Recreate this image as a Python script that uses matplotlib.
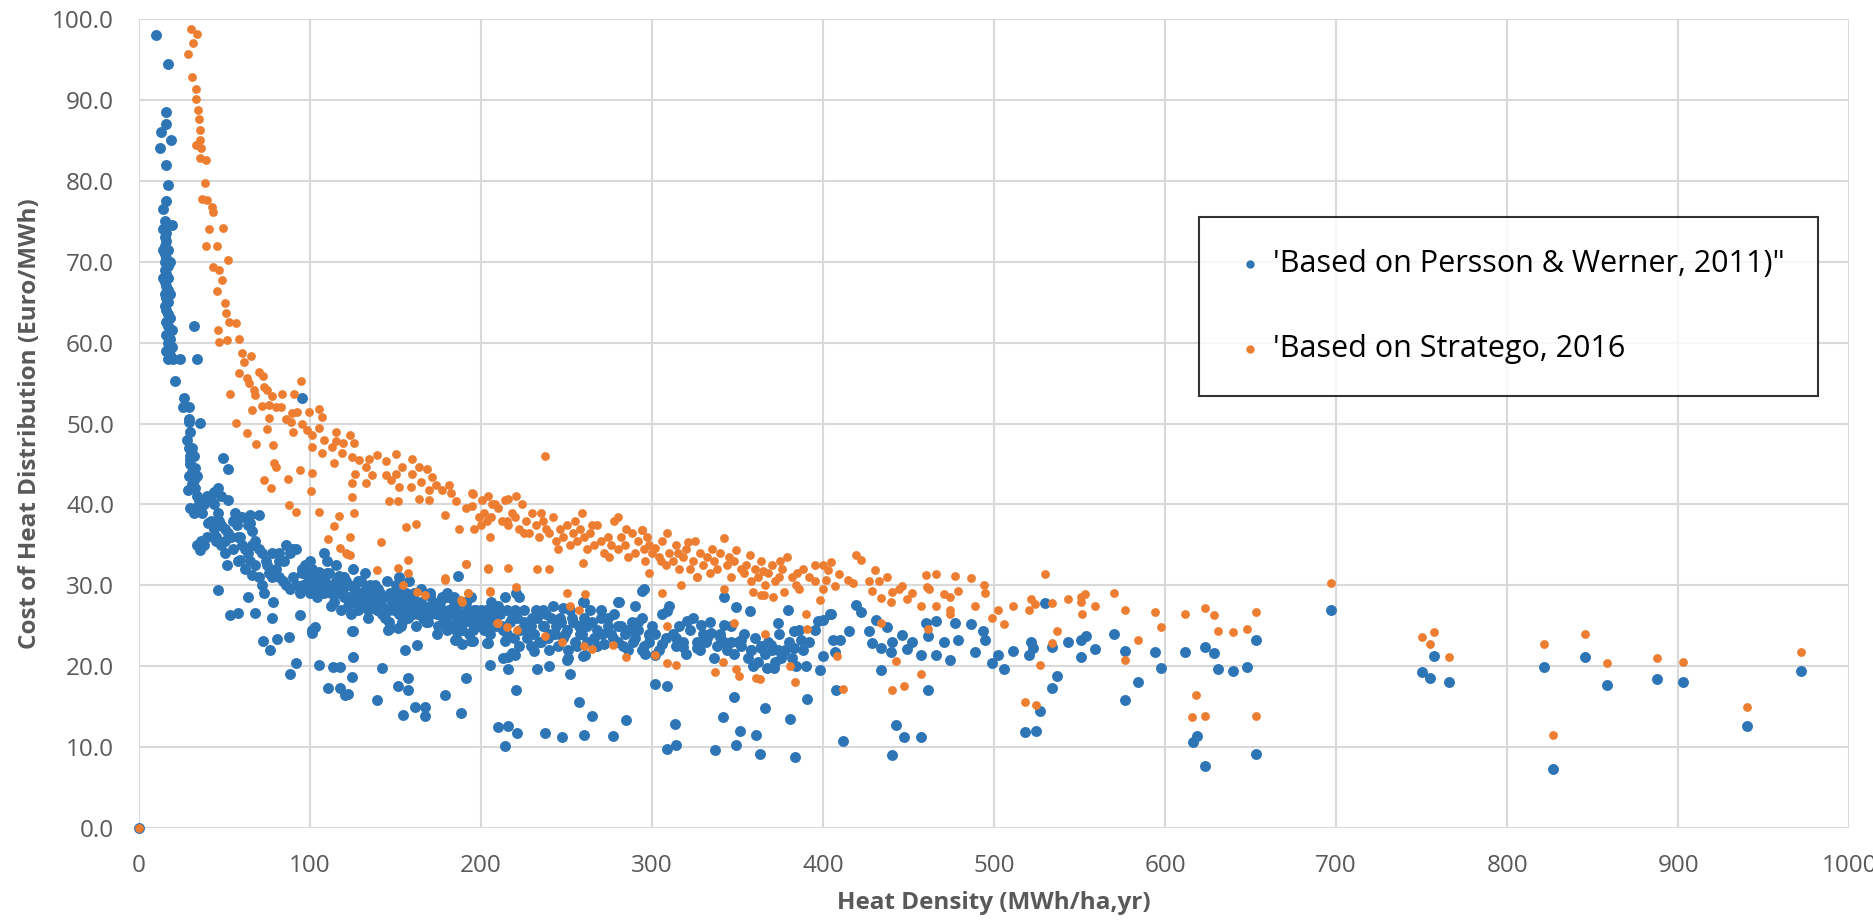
import matplotlib
matplotlib.use("Agg")
import matplotlib.pyplot as plt
from matplotlib.ticker import FixedLocator, FixedFormatter

plt.rcParams['font.family'] = ['Open Sans', 'DejaVu Sans']

# ---------------- data ----------------
blue_pts = [
    (0, 0),
    (10, 98), (17, 94.5), (16, 88.5), (15.5, 87), (13, 86), (18.5, 85), (12, 84), (16, 82), (17, 79.5),
    (15.5, 77.5), (14, 76.5),
    (15, 75), (17, 74.5), (19, 74.5), (14, 74), (16, 73.5), (15, 73), (16, 72.5), (15, 72), (17, 71.5),
    (15, 71), (16, 70.5), (15, 70), (17, 69.5), (15, 69), (16, 68.5), (17, 68), (15, 67.5), (16, 67),
    (17, 66.5), (15, 66), (16, 65.5), (17, 65), (15, 64.5), (16, 64), (17, 63.5), (18, 63), (16, 62.5),
    (17, 62), (19, 61.5), (16, 61), (18, 60.5), (17, 60), (19, 59.5), (16, 59), (18, 58.5), (20, 58),
    (17, 58), (14, 71.5), (14, 68), (18, 70), (18, 66),
    (32, 62), (34, 58), (24, 58), (21, 55.3), (26, 53.2), (29, 52), (25.5, 52), (29, 50.2), (35.7, 50.1),
    (95, 53.2), (49, 45.7), (52, 44.4),
    (28, 48), (29, 47), (30, 46), (30, 45), (31, 44), (29, 43.5), (32, 43), (31, 42.5), (33, 42), (34, 41),
    (35, 40.5), (36, 40), (33, 39.5), (37, 39), (38, 40), (30, 45.5), (31, 47), (32, 46), (33, 44.5),
    (34, 43.5), (30, 49), (29, 50.5), (28.8, 41.8), (31.8, 39.3), (35.7, 34.4), (40.5, 37.7), (45, 36),
    (46.4, 29.4), (53.2, 26.3), (58, 26.6), (51.3, 32.5), (56, 38.1), (59, 36), (65, 38.7), (65, 37.7),
    (63.9, 28.6), (67.8, 26.6), (59, 33.1), (65.9, 31.3), (72.7, 23.1), (76.6, 22), (77.6, 25.9),
    (78.5, 28), (80.5, 23.4), (87.4, 23.6), (88, 19.1), (92, 20.4), (94, 26.3), (90.2, 34.5), (81.7, 34),
    (101, 24.1), (102.8, 24.9), (105, 20.1), (110.7, 17.3), (113.6, 19.9), (117.5, 19.9), (117.5, 17.3),
    (120.5, 16.4), (122.4, 16.6), (124.4, 18.7), (125.4, 21.2), (125, 24.3), (139, 15.8), (141.8, 19.8),
    (145.8, 24.5), (151.5, 24.7), (154.6, 14), (155.6, 22), (157.5, 18.5), (157.5, 17.1), (151.5, 17.5),
    (162.4, 22.6), (161.4, 15), (167.3, 15), (167.3, 13.8), (186.8, 31.1),
    (40, 41), (42, 40.5), (44, 40), (46, 39), (47, 38), (48, 37.5), (50, 37), (52, 36.5), (54, 36),
    (42, 38), (44, 37), (45, 35.5), (48, 35), (50, 34), (38, 35), (40, 36), (55, 38), (57, 37.5), (58, 36),
    (60, 35), (62, 34.5), (64, 34), (65, 33), (62, 32), (58, 33), (55, 34.5), (66, 35), (68, 35.5),
    (70, 34.5), (72, 34), (74, 33), (75, 32.5), (76, 31.5), (78, 31), (80, 32), (82, 31), (84, 30.5),
    (86, 30), (88, 29.5), (70, 31), (72, 30), (68, 32.5), (73, 29), (90, 31), (92, 30), (94, 29),
    (96, 29.5), (98, 30), (100, 29), (102, 30), (104, 28.5), (106, 29.5), (108, 30.5), (110, 30),
    (112, 29), (114, 28), (116, 29), (118, 30), (120, 28.5), (122, 27.5), (124, 28), (126, 29), (128, 27),
    (130, 27.5), (132, 28.5), (134, 27), (136, 29), (138, 30), (140, 28), (142, 27.5), (144, 26), (146, 27),
    (148, 28), (150, 27.5), (152, 26.5), (154, 28), (156, 29), (158, 27), (160, 26.5), (162, 28), (164, 27),
    (166, 26), (168, 25.5), (170, 27.5), (172, 28), (174, 26.5), (176, 27), (178, 26), (180, 25.5),
    (182, 27), (184, 28), (186, 26), (188, 25), (190, 26.5), (192, 27), (194, 25.5), (196, 26), (198, 25),
    (200, 27), (202, 24.5), (204, 26), (206, 25), (208, 27), (85, 33), (88, 34), (95, 32), (100, 31.5),
    (105, 31), (110, 31.5), (115, 30.5), (120, 31), (125, 32), (128, 30.5), (132, 31.5), (135, 30),
    (140, 29.5), (150, 30), (155, 29), (160, 28.5), (165, 29.5), (170, 28.7), (180, 28.5), (190, 28),
    (152, 31), (158, 30.5), (110, 33), (108, 34), (115, 32.5), (126, 30), (100, 33), (92, 34.5), (82, 33),
    (78, 34), (86, 35), (60, 38.5), (64, 37.5), (66, 36.7), (70, 38.7), (56, 39), (52, 40.5), (48, 41),
    (46, 42), (44, 41.5), (30, 39.5), (32, 39), (34, 35), (36, 35.5), (50, 35.5),
    (95, 31.5), (97, 32.5), (99, 31), (101, 32), (103, 30.5), (105, 31.7), (107, 30), (109, 31), (96, 30),
    (100, 30.5), (104, 29.5), (108, 29), (111, 31.5), (113, 30), (115, 29), (117, 31.2), (119, 29.5),
    (121, 30.5), (123, 28.5), (125, 29.8), (127, 28), (129, 29), (112, 27.5), (118, 27), (124, 26.5),
    (130, 30.5), (131, 28), (133, 29.5), (135, 27.5), (137, 28.5), (139, 27), (141, 29), (143, 28.5),
    (145, 30.5), (147, 29), (149, 27), (134, 26), (142, 26.5), (146, 25.5), (150, 28.5), (151, 29.5),
    (153, 27), (155, 28), (157, 26), (159, 27.5), (161, 29), (163, 26.5), (165, 28), (167, 27), (169, 25.5),
    (154, 25.5), (162, 25), (170, 29), (171, 26.5), (173, 27.5), (175, 25), (177, 28.5), (179, 26),
    (181, 27), (183, 25), (185, 27.5), (187, 26.5), (189, 24.5), (191, 27.8), (193, 26), (195, 24.5),
    (197, 27), (199, 26), (174, 24), (186, 24.2), (194, 28.5), (201, 25.5), (203, 27), (205, 24), (207, 26),
    (209, 25), (211, 26.5), (213, 24.5), (215, 27), (217, 25.5), (219, 23.5), (221, 26), (223, 24.5),
    (225, 27), (227, 23.5), (229, 25), (206, 28), (214, 28.5), (222, 22.5), (231, 24), (233, 26), (235, 23),
    (237, 25), (239, 23.5), (241, 26), (243, 24), (245, 22.5), (247, 25.5), (249, 24), (251, 22), (253, 26),
    (255, 23), (257, 25), (259, 24), (236, 27), (248, 27.2), (262, 23), (265, 25.5), (268, 22.5), (271, 24),
    (274, 26), (277, 23.5), (280, 25), (283, 22.5), (286, 24.5), (289, 23), (292, 25.5), (295, 22.5),
    (298, 24), (270, 27), (290, 27.5), (101, 24.5), (124.5, 24.3), (147, 24.7), (153, 25), (180, 24.5),
    (186, 23.3), (194, 23.1), (204, 22.9), (214, 23.1), (216, 21.2), (220, 21.4), (229, 22.5), (231, 21.9),
    (240, 22), (251, 21), (261, 21.4), (260, 28), (280.4, 28), (295, 29.5),
    (309, 26.8), (320.7, 25.6), (328.5, 25.1), (334.4, 24.1), (342.2, 25.1), (346, 23), (352, 23.3),
    (358, 22), (364, 22.2), (369.6, 22.6), (373.6, 22), (375.5, 21), (359, 20), (367, 19.8), (371.6, 19.8),
    (313.9, 23.5), (306, 22.8), (298, 23.9), (290, 24.5), (294, 22), (302, 21.4), (318, 22.4), (326, 22.2),
    (331.8, 23), (339.6, 23.6), (383, 24.4), (387, 23.2), (397, 25.6), (404.6, 26.5),
    (176, 28), (178, 27), (180, 29), (182, 26.5), (184, 28.5), (186, 27.5), (190, 25.5), (193, 24),
    (196, 27), (198, 25.5),
    (178.8, 16.5), (188, 14.2), (191.2, 18.5), (184.8, 23.2), (188.6, 22.8), (195.5, 23.1), (205.3, 20.2),
    (203.7, 22.9), (210.2, 12.5), (216, 12.6), (214, 10.1), (221, 11.8), (220.5, 17.1), (216, 19.6),
    (213.1, 21), (218, 21.6), (237.6, 11.8), (247.3, 11.2), (260, 11.5), (277.3, 11.4), (284.9, 13.4),
    (264.9, 13.9), (257.1, 15.6), (252.2, 19), (250.3, 20.8), (239.5, 20), (233, 19.6), (259.7, 21.3),
    (294.3, 29.3), (280.2, 28), (259.7, 27.9), (220.5, 29), (302, 17.8), (308.6, 17.6), (309, 9.8),
    (313.8, 10.3), (313.5, 12.9), (336.8, 9.6), (341.3, 13.7), (348.1, 16.2), (351.4, 12), (349.1, 10.3),
    (360.8, 11.5), (363.4, 9.1), (366.1, 14.8), (380.4, 13.5), (383.3, 8.8), (390.8, 16), (390.2, 20),
    (341.9, 28.6), (349.1, 27.3), (357, 26.8), (379.4, 26.9), (373.6, 25.3), (382.9, 22.2),
    (205, 26.5), (210, 27.5), (212, 25), (215, 24), (218, 26), (220, 27), (222, 28.5), (225, 25.5),
    (228, 24.5), (230, 26), (232, 27), (234, 23), (236, 25), (238, 26.5), (240, 24), (242, 27.5), (244, 25),
    (246, 26), (248, 23.5), (250, 24.5), (252, 27), (254, 25.5), (256, 22.5), (258, 24), (260, 26),
    (262, 25), (264, 27), (266, 23.5), (268, 24.5), (270, 26), (272, 22.8), (274, 25), (276, 24),
    (278, 26.5), (280, 23), (282, 25), (284, 24), (286, 22), (288, 25.5), (290, 23.5), (292, 24.5),
    (294, 26), (296, 21.5), (298, 23), (300, 25), (302, 24), (304, 22), (306, 26.5), (308, 23.5),
    (310, 27.5), (312, 24), (314, 22.5), (316, 25), (318, 23), (320, 21.5), (322, 24.5), (324, 26),
    (326, 23), (328, 22), (330, 24), (332, 23.5), (334, 25.5), (336, 21), (338, 22.5), (340, 24), (342, 23),
    (344, 22), (346, 25), (348, 21.5), (350, 23), (352, 22.5), (354, 24), (356, 21), (358, 22), (360, 23.5),
    (362, 20.5), (364, 22.5), (366, 21.5), (368, 23), (370, 22), (372, 20.5), (374, 24), (376, 21.5),
    (378, 22), (380, 23), (382, 21), (384, 20), (386, 24.5), (388, 22), (392, 23), (395, 24.5),
    (404, 26.5), (400, 25.7), (419.5, 27.6), (422.2, 26.7), (430.7, 25.7), (437.6, 24.9), (415, 24.3),
    (426.7, 24.3), (428.7, 22.9), (433.6, 22.2), (439.5, 21.8), (406, 23.3), (410, 23.3), (400, 21.3),
    (407, 21.8), (398, 19.5), (433.6, 19.5), (440.5, 23), (446.4, 23.9), (452.3, 23), (449, 22.1),
    (457.3, 21.4), (466.1, 21.4), (460.2, 25.3), (466.1, 25.6), (461.2, 23.7), (476.9, 25.4), (471, 23),
    (478.9, 23.3), (474, 20.8), (486.8, 25.2), (493.7, 24.4), (494.7, 23.3), (488.8, 21.7), (498.6, 20.4),
    (502.5, 21.4), (506, 19.6), (510.8, 21.9), (521.8, 23), (522.6, 22.2), (520.6, 21.4), (529.7, 27.8),
    (534, 22.4), (543.1, 23), (550.8, 23.2), (550.8, 21.1), (553.7, 23.7), (559.2, 22.1), (570.4, 24),
    (576.7, 21.9), (594, 21.7), (597.4, 19.8), (611.4, 21.7), (623.6, 22.4), (628.5, 21.6), (631, 19.6),
    (407.6, 17.1), (461.6, 17), (537, 18.8), (534, 17.3), (584.2, 18), (576.7, 15.8), (526.8, 14.5),
    (518.3, 11.9), (524.8, 12), (442.5, 12.7), (447.4, 11.3), (457.3, 11.3), (411.6, 10.8), (440.1, 9),
    (616.3, 10.6), (618.7, 11.4), (623.6, 7.7),
    (697, 26.9), (639.5, 19.4), (648, 19.9), (653, 23.2), (653, 9.1), (750.4, 19.3), (754.8, 18.5),
    (757.3, 21.3), (766, 18.1), (821.8, 19.9), (826.8, 7.3), (845.4, 21.1), (858.3, 17.7), (887.6, 18.4),
    (903, 18), (940.2, 12.6), (971.7, 19.4),
]

orange_pts = [
    (0, 0),
    (30.2, 98.8), (33.7, 98.2), (31.3, 97), (28.8, 95.7), (30.9, 92.8), (33.4, 91.3), (33.4, 90.1),
    (34.2, 88.8), (34.8, 87.6), (35.4, 86.3), (35.7, 85.1), (33.2, 84.4), (36.3, 84), (35.7, 82.8),
    (39, 82.6), (38.6, 79.7), (36.6, 77.7), (39.5, 77.6), (42.5, 76.8), (43.4, 76.1), (41, 74.1),
    (48.9, 74.2), (39.1, 71.9), (45.4, 71.9), (52.3, 70.2), (43.4, 69.4), (46.9, 69), (48.3, 67.7),
    (45.8, 66.4), (50.9, 63.6),
    (50.3, 64.9), (52.6, 62.6), (56.5, 62.4), (46.2, 61.6), (46.8, 60.1), (51.7, 60.3), (58.5, 60.4),
    (60.4, 58.7), (65.3, 58.3), (61.4, 57.6), (58.5, 56.3), (70.2, 56.4), (72.5, 55.9), (63.4, 55.6),
    (64.3, 55), (67.3, 54.1), (67.8, 53.5), (73.1, 54.5), (75, 54.1), (77.6, 53.4), (83.8, 53.7),
    (90.6, 53.7), (94.9, 55.3), (53, 53.7), (66.3, 51.7), (72.1, 52.2), (76, 52.3), (79.9, 52.1),
    (82.8, 52), (76, 50.7), (85.8, 50.6), (89.7, 51.3), (92.6, 51.4), (99.4, 51.4), (105.3, 51.8),
    (106.8, 50.8), (56.9, 50.1), (63.4, 48.8), (74.7, 49.3), (68.2, 47.5), (78.6, 47.4), (88.7, 50.2),
    (90.1, 49), (95.5, 49.9), (98.4, 49.2), (101.4, 48.6), (105.3, 49.4), (101.4, 47.1), (107.2, 46.3),
    (108.2, 48), (115, 48.9), (115, 47.9), (119.3, 47.6), (123.2, 48.6), (125.7, 47.6), (113.1, 47.1),
    (118.9, 46.3), (124.8, 45.9), (128.7, 45.5), (134.5, 45.6), (139.4, 46.1), (144.2, 45.4),
    (150.5, 46.2), (159.5, 45.6), (114, 45.1), (126.3, 43.8), (132.6, 44.6), (136.5, 43.6), (144.2, 43.6),
    (150.1, 43.8), (153.6, 44.6), (159.5, 43.8), (163.7, 44.6), (168.6, 44.4), (171.5, 43.4),
    (124.8, 42.6), (132.6, 42.6), (147.2, 43), (152, 42.2), (158.9, 42.2), (164.7, 42.8), (169.6, 41.8),
    (173.5, 42.4), (177.4, 41.8), (181.3, 42.4), (182.3, 41.4), (185.2, 40.4), (169.6, 40.5),
    (163.7, 40.7), (146.2, 40.4), (151.7, 40.4), (194.9, 41.4), (194.9, 39.8), (191, 39.6), (200.8, 40.5),
    (206.6, 40.1), (198.8, 38.5), (203.7, 37.9), (179, 38.7), (195.9, 37), (187.1, 37), (161.8, 37.6),
    (155.9, 37.2), (78.9, 45.1), (79.9, 44.6), (94, 44.3), (101.4, 43.9), (87.1, 43.1), (73.1, 43),
    (77, 42), (100.4, 41.7), (124.4, 40.9), (87.7, 39.9), (92, 39.1), (105.3, 39.1), (117, 38.6),
    (125.7, 38.9), (114, 37.3), (123.2, 36), (110.5, 35.7), (117.3, 34.6), (121.2, 34), (141.3, 35.4),
    (121.5, 33.9), (123.5, 33.7), (139, 31.9), (151.5, 32.1), (157.5, 33.1), (157.5, 31.5), (154.6, 30),
    (162.4, 29.2), (167.3, 28.8), (178.9, 30.7), (191.2, 32.6), (192.6, 29), (188.6, 28), (204.3, 32.1),
    (205.3, 29.2), (209.3, 25.3),
    (237.6, 46), (178.8, 30.9), (191.2, 32.6), (203.9, 32), (216, 32.2), (233, 32), (239.5, 32),
    (259.5, 32.8), (250.3, 29), (260.8, 28.9), (252.2, 27.5), (257, 27), (205.3, 29.3), (220.5, 29.8),
    (192.6, 29), (188, 28.2), (210.2, 25.3), (215, 24.9), (221, 24.5), (237.6, 23.7), (247.3, 23),
    (260, 22.5), (264.9, 22.1), (277.3, 22.6), (285, 21.2), (306, 29), (308.6, 25), (302, 21.4),
    (309, 20.4), (313.8, 20.1), (341.9, 29.6), (348.1, 25.4), (341.3, 20.5), (336.8, 19.3), (349.1, 19.6),
    (351, 18.8), (360.8, 18.5), (363.4, 18.4), (366, 24), (365.3, 28.8), (371, 28.6), (377.4, 29.2),
    (380.4, 20), (383.3, 18), (390.8, 24.6), (390.2, 26.5), (359, 29.2),
    (195.5, 41.3), (220.5, 41), (216, 40.7), (259, 39), (280.2, 38.5), (294.3, 36.8), (309, 36.5),
    (321, 35.4), (341.9, 35.8), (349, 34.4), (357, 33.8), (379, 33.5), (395, 32.5), (297, 36), (302, 34.6),
    (298, 31.5), (316.8, 30), (326.5, 31), (364, 28.8),
    (202, 39), (204, 41), (206, 38.5), (208, 40), (210, 39.5), (212, 38), (214, 40.5), (216, 37.5),
    (218, 39), (220, 38.5), (222, 37), (224, 40), (226, 38), (228, 36.5), (230, 39), (232, 37.5), (234, 36),
    (236, 38), (238, 37), (240, 36.5), (242, 38.5), (244, 35.5), (246, 37), (248, 36), (250, 37.5),
    (252, 35), (254, 36.5), (256, 35.5), (258, 37), (260, 36), (262, 34.5), (264, 36.5), (266, 35),
    (268, 37.5), (270, 35.5), (272, 34), (274, 36), (276, 35), (278, 38), (280, 34.5), (282, 36), (284, 35),
    (286, 33.5), (288, 36.5), (290, 34), (292, 35.5), (294, 36.8), (296, 33), (298, 35), (300, 34),
    (304, 33.5), (306, 35.5), (308, 32.5), (310, 34), (312, 33), (314, 35), (316, 32), (318, 33.5),
    (320, 34.5), (322, 32), (324, 33), (326, 31), (328, 34), (330, 32.5), (332, 33.5), (334, 31.5),
    (336, 33), (338, 32), (340, 34), (344, 32.5), (346, 31), (348, 33), (352, 32), (354, 31.5),
    (358, 30.5), (360, 32), (362, 31), (364, 33), (366, 30), (368, 31.5), (370, 32.5), (372, 30.5),
    (374, 31), (376, 32), (382, 31), (384, 30), (386, 29.5), (388, 32), (392, 31),
    (200, 37.5), (205, 36), (215, 38), (225, 36.5), (235, 39), (245, 34.5), (255, 38), (265, 37.5),
    (275, 33.5), (285, 37), (295, 34.5), (305, 33), (315, 34), (325, 35.5), (335, 34.5), (345, 33.5),
    (355, 32.5), (365, 31.8), (375, 33), (385, 31.5), (395, 30.5),
    (419.5, 33.7), (422.2, 33.1), (430.1, 31.9), (437.6, 31), (426.7, 30.5), (432.6, 30.5), (417.5, 30.3),
    (414.3, 30.7), (409.6, 31.4), (407, 29.9), (400, 29.6), (402, 30.7), (403, 31.9), (404.5, 32.9),
    (400, 32.5), (398, 28.2), (428.7, 29.3), (440.1, 29.2), (446.4, 29.9), (444.5, 29.6), (433.6, 28.4),
    (439.5, 28), (449, 28.3), (452.3, 29), (457.3, 27.4), (466.1, 27.5), (460.2, 31.3), (466.1, 31.4),
    (460.8, 29.8), (462.2, 29.6), (471, 28.9), (474, 28.6), (478.9, 29.3), (476.9, 31.1), (474, 27),
    (474, 26.5), (486.8, 30.9), (494, 30.1), (494.7, 29), (488.8, 27.5), (502.5, 26.9), (498.6, 26),
    (506, 25.2), (510.8, 27.5), (520.6, 26.9), (521.8, 28.3), (523.8, 27.7), (529.7, 31.4), (534, 27.8),
    (537, 24.4), (534, 22.9), (543.1, 28.3), (550.8, 28.6), (550.8, 27.9), (553.3, 28.9), (551.2, 26.5),
    (559, 27.4), (570.4, 29), (576.7, 26.9), (576.7, 20.8), (584.2, 23.2), (594, 26.7), (597.4, 24.8),
    (611.4, 26.5), (623.6, 27.2), (628.5, 26.3), (631, 24.4), (433.6, 25.4), (461.6, 24.6), (442.5, 20.7),
    (408, 21.3), (457.3, 19), (447.4, 17.5), (440.1, 17), (411.6, 17.2), (526.8, 20.1), (518.3, 15.6),
    (524.8, 15.2), (618.3, 16.5), (615.7, 13.7), (623.6, 13.9),
    (697, 30.3), (639.5, 24.2), (648, 24.6), (653, 26.7), (653, 13.9), (750.4, 23.6), (754.8, 22.7),
    (757.3, 24.2), (766, 21.1), (821.8, 22.7), (826.8, 11.5), (845.4, 24), (858.3, 20.4), (887.6, 21),
    (903, 20.5), (940.2, 15), (971.7, 21.7),
]

blue_x = [p[0] for p in blue_pts]
blue_y = [p[1] for p in blue_pts]
orange_x = [p[0] for p in orange_pts]
orange_y = [p[1] for p in orange_pts]

series_labels = ["'Based on Persson & Werner, 2011)\"", "'Based on Stratego, 2016"]
x_ticks = [0, 100, 200, 300, 400, 500, 600, 700, 800, 900, 1000]
x_tick_labels = ["0", "100", "200", "300", "400", "500", "600", "700", "800", "900", "1000"]
y_ticks = [0, 10, 20, 30, 40, 50, 60, 70, 80, 90, 100]
y_tick_labels = ["0.0", "10.0", "20.0", "30.0", "40.0", "50.0", "60.0", "70.0", "80.0", "90.0", "100.0"]

# ---------------- plot ----------------
BLUE = '#2E75B6'
ORANGE = '#ED7D31'
GRAY = '#595959'
GRID = '#D9D9D9'

fig = plt.figure(figsize=(18.74, 9.23), dpi=100)
ax = fig.add_axes([0.0742, 0.1029, 0.9125, 0.8765])

ax.scatter(blue_x, blue_y, s=62, color=BLUE, linewidths=0, zorder=3, clip_on=False, label=series_labels[0])
ax.scatter(orange_x, orange_y, s=40, color=ORANGE, linewidths=0, zorder=4, clip_on=False, label=series_labels[1])

ax.set_xlim(0, 1000)
ax.set_ylim(0, 100)
ax.xaxis.set_major_locator(FixedLocator(x_ticks))
ax.xaxis.set_major_formatter(FixedFormatter(x_tick_labels))
ax.yaxis.set_major_locator(FixedLocator(y_ticks))
ax.yaxis.set_major_formatter(FixedFormatter(y_tick_labels))

ax.grid(True, color=GRID, linewidth=1.5, zorder=0)
ax.set_axisbelow(True)
for sp in ax.spines.values():
    sp.set_visible(False)

ax.tick_params(axis='both', length=0, labelsize=17.5, labelcolor=GRAY)
ax.tick_params(axis='y', pad=18)
ax.tick_params(axis='x', pad=19)

ax.set_xlabel('Heat Density (MWh/ha,yr)', fontsize=17.5, fontweight='bold', color=GRAY)
ax.set_ylabel('Cost of Heat Distribution (Euro/MWh)', fontsize=17.5, fontweight='bold', color=GRAY)
ax.xaxis.set_label_coords(0.5, -0.093)
ax.xaxis.label.set_va('center')
ax.yaxis.set_label_coords(-0.064, 0.5)
ax.yaxis.label.set_va('center')

leg = ax.legend(loc='upper left', bbox_to_anchor=(0.620, 0.551, 0.362, 0.204), mode='expand',
                fontsize=22, frameon=True, fancybox=False, edgecolor='black',
                borderpad=1.05, labelspacing=1.8, handletextpad=0.15, handlelength=1.2,
                borderaxespad=0)
leg.get_frame().set_linewidth(1.5)
for h in leg.legend_handles:
    h.set_sizes([36])

fig.savefig('out.png', dpi=100)
